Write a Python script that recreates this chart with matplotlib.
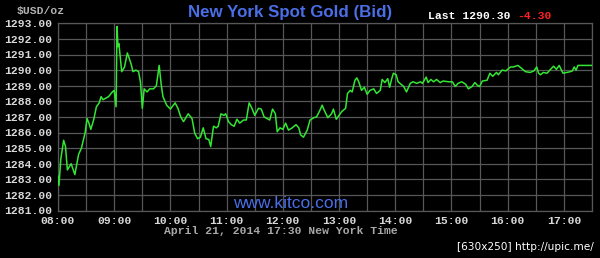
import numpy as np
import matplotlib
matplotlib.use('Agg')
import matplotlib.pyplot as plt

# minutes after 08:00 and bid price
minutes = [0, 1, 3, 6, 8, 10, 14, 18, 22, 25, 29, 31, 33, 35, 38, 41, 44, 46, 48, 54,
           58, 60, 62, 63, 64, 65, 68, 71, 74, 78, 80, 83, 86, 88, 90, 92, 95, 98, 102, 105,
           108, 110, 112, 116, 120, 125, 128, 131, 134, 139, 143, 146, 149, 152, 155, 158, 161, 163, 166, 169,
           171, 174, 177, 179, 182, 185, 188, 191, 194, 198, 201, 204, 207, 210, 214, 217, 220, 223, 226, 229,
           232, 234, 237, 240, 243, 246, 250, 254, 257, 259, 262, 266, 269, 273, 276, 279, 282, 284, 288, 292,
           294, 297, 300, 303, 307, 309, 312, 314, 317, 319, 321, 324, 327, 330, 333, 337, 340, 344, 346, 349,
           352, 354, 356, 358, 361, 363, 367, 369, 372, 376, 379, 383, 387, 389, 393, 395, 398, 401, 404, 408,
           411, 417, 421, 424, 427, 431, 435, 438, 442, 445, 448, 450, 453, 458, 461, 464, 468, 470, 474, 478,
           483, 486, 491, 495, 499, 504, 508, 511, 513, 515, 518, 522, 525, 529, 532, 535, 539, 543, 547, 549,
           551, 553, 555, 570]
prices = [1283.2, 1282.6, 1284.3, 1285.5, 1285.1, 1283.6, 1284.0, 1283.3, 1284.6, 1285.0,
          1286.0, 1286.9, 1286.6, 1286.2, 1286.8, 1287.65, 1287.9, 1288.3, 1288.1, 1288.3,
          1288.6, 1288.7, 1287.65, 1292.8, 1291.5, 1291.7, 1289.9, 1290.2, 1291.1, 1290.4,
          1289.9, 1290.0, 1289.9, 1289.25, 1287.55, 1288.8, 1288.6, 1288.8, 1288.8, 1289.0,
          1290.3, 1289.15, 1288.3, 1287.75, 1287.5, 1287.9, 1287.55, 1287.0, 1286.7, 1287.2,
          1286.9, 1285.95, 1285.6, 1285.7, 1286.3, 1285.6, 1285.55, 1285.1, 1286.4, 1286.3,
          1286.4, 1287.2, 1287.1, 1287.2, 1286.7, 1286.5, 1286.4, 1286.85, 1286.6, 1286.8,
          1286.8, 1287.9, 1287.55, 1287.1, 1287.55, 1287.5, 1287.0, 1286.9, 1286.8, 1287.5,
          1287.2, 1286.05, 1286.3, 1286.2, 1286.6, 1286.15, 1286.3, 1286.5, 1286.3, 1285.85,
          1285.7, 1286.15, 1286.8, 1286.95, 1287.0, 1287.35, 1287.75, 1287.45, 1286.95, 1287.2,
          1287.5, 1286.85, 1287.1, 1287.35, 1287.55, 1288.5, 1288.7, 1288.6, 1289.35, 1289.5,
          1289.25, 1288.7, 1288.9, 1288.45, 1288.7, 1288.8, 1288.5, 1288.7, 1289.4, 1289.2,
          1289.45, 1288.9, 1289.4, 1289.8, 1289.7, 1289.25, 1289.05, 1288.95, 1288.6, 1289.15,
          1289.25, 1289.15, 1289.25, 1289.15, 1289.55, 1289.2, 1289.4, 1289.25, 1289.4, 1289.2,
          1289.3, 1289.25, 1289.25, 1288.95, 1289.15, 1289.25, 1289.1, 1288.8, 1288.95, 1289.2,
          1289.0, 1288.95, 1289.3, 1289.35, 1289.8, 1289.6, 1289.85, 1289.7, 1290.0, 1289.95,
          1290.2, 1290.2, 1290.3, 1290.1, 1289.9, 1289.85, 1289.95, 1290.2, 1289.8, 1289.7,
          1289.85, 1289.8, 1290.0, 1290.25, 1290.05, 1290.3, 1289.8, 1289.85, 1289.9, 1289.95,
          1290.2, 1290.0, 1290.3, 1290.3]

hour_labels = ['08:00', '09:00', '10:00', '11:00', '12:00', '13:00', '14:00', '15:00', '16:00', '17:00']
price_ticks = [1281, 1282, 1283, 1284, 1285, 1286, 1287, 1288, 1289, 1290, 1291, 1292, 1293]

W, H = 600, 258
fig = plt.figure(figsize=(W / 100, H / 100), dpi=100, facecolor='black')
ax = fig.add_axes([58 / W, 1 - 210.5 / H, 534 / W, 187.2 / H], facecolor='black')

ax.plot(minutes, prices, color='#33e633', lw=1.1, zorder=3)

ax.set_xlim(0, 570)
ax.set_ylim(1281, 1293)
ax.set_xticks(np.arange(len(hour_labels)) * 60)
ax.set_xticklabels(hour_labels)
ax.set_xticks(np.arange(0, 571, 30), minor=True)
ax.set_yticks(price_ticks)
ax.set_yticklabels(['%.2f' % p for p in price_ticks])

ax.grid(True, which='both', color='#575757', lw=0.9)
ax.tick_params(which='both', length=0, colors='#d8d8d8', pad=4)
for lab in ax.get_xticklabels() + ax.get_yticklabels():
    lab.set_fontfamily('Liberation Mono')
    lab.set_fontweight('bold')
    lab.set_fontsize(8.2)
for s in ax.spines.values():
    s.set_color('#575757')
    s.set_linewidth(0.9)

mono = 'Liberation Mono'
fig.text(41 / W, 1 - 11 / H, '$USD/oz', color='#b0b0b0', family=mono, fontweight='bold',
         fontsize=8.2, ha='center', va='center')
fig.text(290 / W, 1 - 12 / H, 'New York Spot Gold (Bid)', color='#4a6ee6',
         family='Liberation Sans', fontweight='bold', fontsize=12.2, ha='center', va='center')
fig.text(428 / W, 1 - 16 / H, 'Last 1290.30', color='white', family=mono, fontweight='bold',
         fontsize=8.2, ha='left', va='center')
fig.text(517 / W, 1 - 16 / H, '-4.30', color='#ff2020', family=mono, fontweight='bold',
         fontsize=8.2, ha='left', va='center')
fig.text(290.5 / W, 1 - 203 / H, 'www.kitco.com', color='#4a6ee6', family='Liberation Sans',
         fontsize=12.5, ha='center', va='center')
fig.text(281 / W, 1 - 231 / H, 'April 21, 2014 17:30 New York Time', color='#a8a8a8',
         family=mono, fontweight='bold', fontsize=8.2, ha='center', va='center')
fig.text(525 / W, 1 - 247 / H, '[630x250] http://upic.me/', color='white',
         family='DejaVu Sans', fontsize=7.6, ha='center', va='center')

fig.savefig('out.png', dpi=100, facecolor='black')
